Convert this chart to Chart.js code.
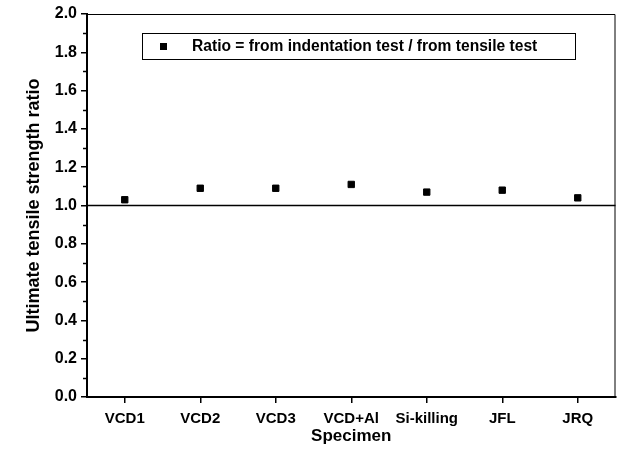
<!DOCTYPE html>
<html><head><meta charset="utf-8">
<script src="https://cdn.jsdelivr.net/npm/chart.js@4/dist/chart.umd.min.js"></script>
<style>html,body{margin:0;padding:0;background:#fff}#wrap{width:621px;height:454px}</style>
</head><body><div id="wrap"><canvas id="c" width="621" height="454"></canvas></div>
<script>
const categories = ['VCD1', 'VCD2', 'VCD3', 'VCD+Al', 'Si-killing', 'JFL', 'JRQ'];
const ratioValues = [1.03, 1.09, 1.09, 1.11, 1.07, 1.08, 1.04];
const yTickValues = [0.0, 0.2, 0.4, 0.6, 0.8, 1.0, 1.2, 1.4, 1.6, 1.8, 2.0];
const yMinorTicks = [0.1, 0.3, 0.5, 0.7, 0.9, 1.1, 1.3, 1.5, 1.7, 1.9];
const referenceRatio = 1.0;
const seriesLabel = 'Ratio = from indentation test / from tensile test';
const xTitle = 'Specimen';
const yTitle = 'Ultimate tensile strength ratio';

const FONT = "'Liberation Sans', Arial, Helvetica, sans-serif";

const decorPlugin = {
  id: 'decor',
  afterDraw(chart) {
    const ctx = chart.ctx;
    const a = chart.chartArea;
    const y = chart.scales.y;
    ctx.save();
    ctx.strokeStyle = '#000';
    // top & right frame
    ctx.lineWidth = 1;
    ctx.beginPath();
    ctx.moveTo(a.left, a.top + 0.5);
    ctx.lineTo(a.right - 0.5, a.top + 0.5);
    ctx.lineTo(a.right - 0.5, a.bottom);
    ctx.stroke();
    // reference line
    const ry = y.getPixelForValue(referenceRatio);
    ctx.lineWidth = 1.5;
    ctx.beginPath();
    ctx.moveTo(a.left, ry);
    ctx.lineTo(a.right, ry);
    ctx.stroke();
    // minor ticks
    ctx.lineWidth = 1.5;
    yMinorTicks.forEach(v => {
      const py = Math.round(y.getPixelForValue(v)) + 0.5;
      ctx.beginPath();
      ctx.moveTo(a.left - 4, py);
      ctx.lineTo(a.left, py);
      ctx.stroke();
    });
    // legend box
    const lx = 142, ly = 33, lw = 433, lh = 26;
    ctx.lineWidth = 1;
    ctx.strokeRect(lx + 0.5, ly + 0.5, lw, lh);
    ctx.fillStyle = '#000';
    ctx.fillRect(160, ly + lh / 2 - 3, 7, 7);
    ctx.font = 'bold 15.6px ' + FONT;
    ctx.textBaseline = 'middle';
    ctx.textAlign = 'left';
    ctx.fillText(chart.data.datasets[0].label, 192, ly + lh / 2 + 1);
    ctx.restore();
  }
};

new Chart(document.getElementById('c'), {
  type: 'line',
  data: {
    labels: categories,
    datasets: [{
      label: seriesLabel,
      data: ratioValues,
      showLine: false,
      pointStyle: 'rect',
      pointRadius: 4.5,
      pointBorderWidth: 1,
      pointBackgroundColor: '#000',
      pointBorderColor: '#000'
    }]
  },
  options: {
    responsive: false,
    devicePixelRatio: 1,
    animation: false,
    layout: { padding: { top: 14, right: 5, left: 0, bottom: 0 } },
    plugins: { legend: { display: false }, tooltip: { enabled: false } },
    scales: {
      x: {
        type: 'category',
        offset: true,
        grid: { display: true, offset: false, drawOnChartArea: false, drawTicks: true, tickLength: 6, color: '#000', lineWidth: 1.5 },
        border: { display: true, color: '#000', width: 2 },
        ticks: { color: '#000', font: { family: FONT, size: 15, weight: 'bold' }, padding: 7, maxRotation: 0, autoSkip: false },
        title: { display: true, text: xTitle, color: '#000', font: { family: FONT, size: 17, weight: 'bold' }, padding: { top: 0, bottom: 7 } },
        afterFit(s) { s.height = 57; }
      },
      y: {
        min: 0,
        max: 2.0,
        afterBuildTicks(s) { s.ticks = yTickValues.map(v => ({ value: v })); },
        grid: { display: true, drawOnChartArea: false, drawTicks: true, tickLength: 6, color: '#000', lineWidth: 1.5 },
        border: { display: true, color: '#000', width: 2 },
        ticks: { color: '#000', font: { family: FONT, size: 16, weight: 'bold' }, padding: 4, callback: v => Number(v).toFixed(1) },
        title: { display: true, text: yTitle, color: '#000', font: { family: FONT, size: 18, weight: 'bold' }, padding: { top: 23, bottom: 0 } },
        afterFit(s) { s.width = 87; }
      }
    }
  },
  plugins: [decorPlugin]
});
</script>
</body></html>
